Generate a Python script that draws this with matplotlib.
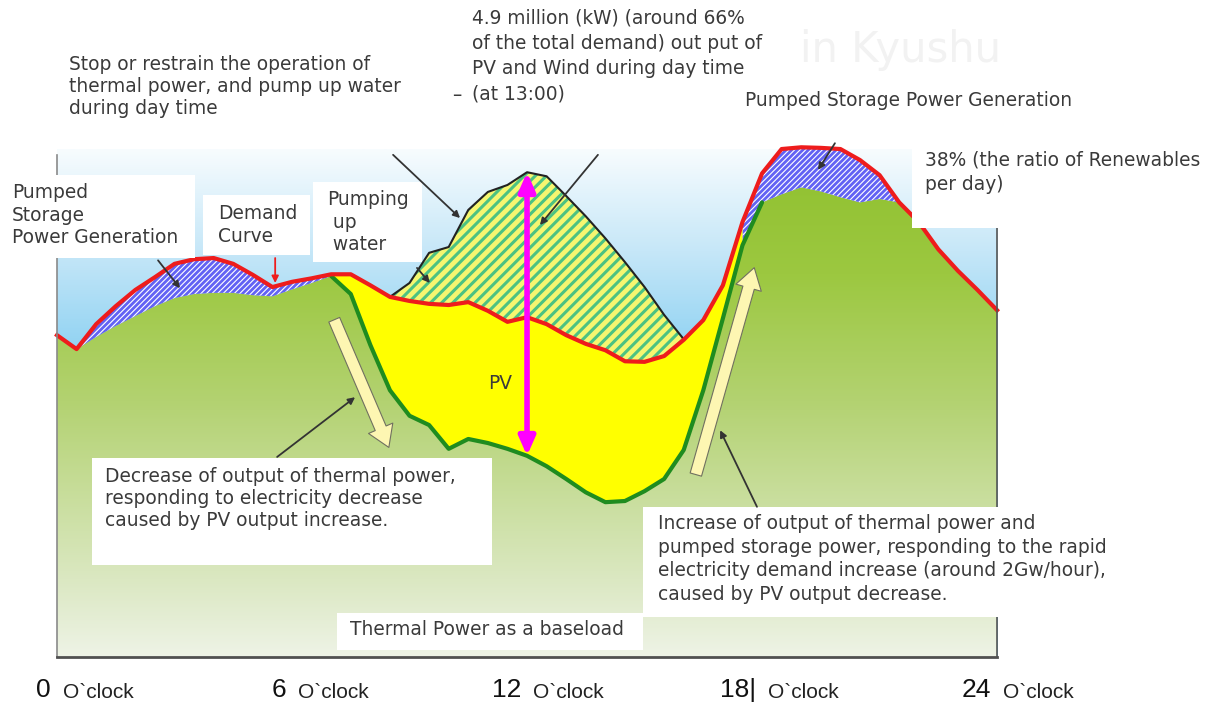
import numpy as np
import matplotlib.pyplot as plt
from matplotlib.patches import Rectangle, FancyArrowPatch
from matplotlib.colors import LinearSegmentedColormap

plt.rcParams['font.family'] = ['DejaVu Sans']
plt.rcParams['hatch.linewidth'] = 2.0

# half-hourly daily profile (GW)
hours = np.arange(0, 24.5, 0.5)
demand = np.array([5.55, 5.31, 5.74, 6.05, 6.33, 6.55, 6.78, 6.86, 6.88, 6.78,
                   6.59, 6.38, 6.47, 6.53, 6.60, 6.60, 6.41, 6.21, 6.14, 6.09,
                   6.07, 6.12, 5.97, 5.78, 5.86, 5.74, 5.55, 5.40, 5.29, 5.10,
                   5.09, 5.19, 5.47, 5.81, 6.41, 7.50, 8.34, 8.76, 8.79, 8.78,
                   8.76, 8.57, 8.31, 7.84, 7.50, 7.03, 6.66, 6.33, 5.98])
thermal = np.array([5.55, 5.31, 5.52, 5.71, 5.88, 6.05, 6.19, 6.26, 6.28, 6.28,
                    6.24, 6.22, 6.34, 6.45, 6.57, 6.26, 5.38, 4.60, 4.16, 4.00,
                    3.59, 3.76, 3.69, 3.59, 3.47, 3.29, 3.07, 2.84, 2.67, 2.69,
                    2.86, 3.07, 3.57, 4.60, 5.84, 7.10, 7.84, 7.98, 8.10, 8.03,
                    7.93, 7.84, 7.90, 7.84, 7.50, 7.03, 6.66, 6.33, 5.98])
# thermal + PV + wind output in day time (8:30 - 16:00)
day_hours = hours[17:33]
supply = np.array([6.21, 6.45, 6.97, 7.07, 7.71, 8.02, 8.14, 8.36, 8.29, 7.95,
                   7.60, 7.22, 6.81, 6.38, 5.90, 5.48])

tick_hours = [0, 6, 12, 18, 24]
tick_nums = ['0', '6', '12', '18|', '24']

TXT = '#3a3a3a'
FS = 13.4

fig = plt.figure(figsize=(12.18, 7.02), dpi=100)
ax = fig.add_axes([0, 0, 1, 1])
ax.axis('off')

# sky background
sky = LinearSegmentedColormap.from_list(
    'sky', [(0, '#7ccaf0'), (0.6, '#8fd2f2'), (0.8, '#c6e7f8'), (1, '#f7fcfe')])
ax.imshow(np.linspace(0, 1, 256).reshape(-1, 1), extent=(0, 24, 0, 8.75),
          origin='lower', cmap=sky, aspect='auto', zorder=0)

# thermal power as the green base
grass = LinearSegmentedColormap.from_list(
    'grass', [(0, '#eef3e6'), (0.15, '#dbe8c2'), (0.5, '#b3d271'),
              (0.75, '#9cc840'), (1, '#8fc02e')])
img = ax.imshow(np.linspace(0, 1, 256).reshape(-1, 1), extent=(0, 24, 0, 8.8),
                origin='lower', cmap=grass, aspect='auto', zorder=1)
base = ax.fill_between(hours, 0, thermal, facecolor='none', edgecolor='none')
img.set_clip_path(base.get_paths()[0], transform=ax.transData)

pv_window = (hours >= 7) & (hours <= 17.5)
pumped = (hours <= 7) | (hours >= 17.5)

ps = ax.fill_between(hours, thermal, demand, where=pumped, facecolor='#6262f4',
                     edgecolor='white', hatch='//////', linewidth=0, zorder=2)
pv = ax.fill_between(hours, thermal, demand, where=pv_window,
                     facecolor='#ffff00', linewidth=0, zorder=2)
wind = ax.fill_between(day_hours, demand[17:33], supply, facecolor='#f6f670',
                       edgecolor='#4cc282', hatch='///', linewidth=0, zorder=2)
if hasattr(ps, 'set_hatch_linewidth'):
    ps.set_hatch_linewidth(0.8)
    wind.set_hatch_linewidth(2.2)

ax.plot(day_hours, supply, color='#222222', lw=1.5, zorder=3)
ax.plot(hours[14:37], thermal[14:37], color='#1f8c1f', lw=3, zorder=3,
        solid_capstyle='round')
ax.plot(hours, demand, color='#ee1c1c', lw=3, zorder=4, solid_joinstyle='round')

# frame
ax.plot([0, 0], [0, 8.66], color='#8a8a8a', lw=1.2, zorder=4)
ax.plot([24, 24], [0, 8.66], color='#555555', lw=1.2, zorder=4)
ax.plot([0, 24], [0, 0], color='#505050', lw=2, zorder=4)

# big hint arrows for thermal ramp down / up
for a, b in [((7.05, 5.86), (8.50, 3.57)), ((16.29, 3.10), (17.82, 6.76))]:
    ax.add_patch(FancyArrowPatch(
        a, b, arrowstyle='simple,head_length=15,head_width=19,tail_width=8.5',
        mutation_scale=1, facecolor='#fdf6b2', edgecolor='#707060', lw=0.8,
        zorder=4))

# PV + wind output at noon
ax.add_patch(FancyArrowPatch(
    (hours[24], thermal[24]), (hours[24], supply[7]),
    arrowstyle='<|-|>,head_length=0.5,head_width=0.22', mutation_scale=22,
    color='#ff00ff', lw=4, shrinkA=0, shrinkB=0, zorder=5))

# white label boxes
boxes = [(-1.46, 6.88, 4.98, 1.43), (3.73, 6.93, 2.73, 1.04),
         (6.54, 6.81, 2.78, 1.38), (21.83, 7.40, 7.81, 1.60),
         (0.89, 1.59, 10.22, 1.84), (7.15, 0.12, 7.81, 0.64),
         (14.96, 0.69, 11.41, 1.90)]
for x, y, w, h in boxes:
    ax.add_patch(Rectangle((x, y), w, h, facecolor='white', edgecolor='none',
                           zorder=6))

# pointer lines
pointers = [((8.58, 8.66), (10.29, 7.57), '#333333'),
            ((13.81, 8.66), (12.33, 7.45), '#333333'),
            ((2.58, 6.84), (3.14, 6.36), '#333333'),
            ((5.57, 6.88), (5.57, 6.45), '#ee1c1c'),
            ((9.19, 6.71), (9.52, 6.45), '#333333'),
            ((19.86, 8.86), (19.43, 8.40), '#333333'),
            ((5.62, 3.45), (7.61, 4.48), '#333333'),
            ((17.87, 2.59), (16.93, 3.91), '#333333')]
for a, b, c in pointers:
    ax.annotate('', xy=b, xytext=a, zorder=7,
                arrowprops=dict(arrowstyle='-|>', color=c, lw=1.3,
                                mutation_scale=10, shrinkA=0, shrinkB=0))

ax.text(18.97, 10.47, 'in Kyushu', fontsize=30, color='#f2f2f2', va='center')

labels = [
    (0.31, 9.84, 'Stop or restrain the operation of\nthermal power, and pump up water\nduring day time', 1.18),
    (10.59, 10.36, '4.9 million (kW) (around 66%\nof the total demand) out put of\nPV and Wind during day time\n(at 13:00)', 1.42),
    (17.56, 9.60, 'Pumped Storage Power Generation', 1.2),
    (22.16, 8.36, '38% (the ratio of Renewables\nper day)', 1.35),
    (-1.15, 7.62, 'Pumped\nStorage\nPower Generation', 1.24),
    (4.11, 7.45, 'Demand\nCurve', 1.3),
    (6.89, 7.50, 'Pumping\n up\n water', 1.24),
    (1.23, 2.74, 'Decrease of output of thermal power,\nresponding to electricity decrease\ncaused by PV output increase.', 1.2),
    (7.48, 0.48, 'Thermal Power as a baseload', 1.2),
    (15.34, 1.69, 'Increase of output of thermal power and\npumped storage power, responding to the rapid\nelectricity demand increase (around 2Gw/hour),\ncaused by PV output decrease.', 1.32),
]
for x, y, s, ls in labels:
    ax.text(x, y, s, fontsize=FS, color=TXT, va='center', ha='left',
            linespacing=ls, zorder=8)
ax.text(10.08, 9.69, '–', fontsize=FS, color=TXT, va='center', zorder=8)
ax.text(11.31, 4.72, 'PV', fontsize=FS, color=TXT, ha='center', va='center',
        zorder=8)

# hour labels
for h, n in zip(tick_hours, tick_nums):
    ax.annotate(n, xy=(h, -0.57), xytext=(-6, 0), textcoords='offset pixels',
                ha='right', va='center', fontsize=19, family='Liberation Sans',
                color='#111111')
    ax.annotate("O`clock", xy=(h, -0.57), xytext=(6, -2),
                textcoords='offset pixels', ha='left', va='center', fontsize=15,
                family='Liberation Sans', color='#222222')

ax.set_xlim(-1.455, 29.64)
ax.set_ylim(-0.776, 11.33)
fig.savefig('out.png', dpi=100, facecolor='white')
